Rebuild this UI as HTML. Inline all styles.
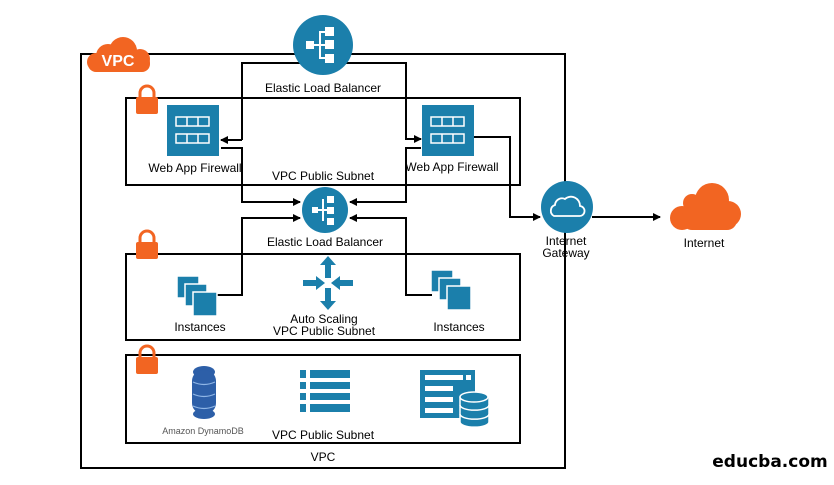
<!DOCTYPE html>
<html><head><meta charset="utf-8"><style>
html,body{margin:0;padding:0;background:#fff;}
svg{display:block;font-family:"Liberation Sans",sans-serif;}
</style></head><body>
<svg width="834" height="485" viewBox="0 0 834 485" xmlns="http://www.w3.org/2000/svg">
<defs>
<marker id="ah" markerWidth="8" markerHeight="8" refX="7" refY="4" orient="auto" markerUnits="userSpaceOnUse">
<path d="M0,0 L8,4 L0,8 z" fill="#000"/></marker>
<g id="lock"><path d="M-7,0 v-5 a7,7 0 0 1 14,0 v5" fill="none" stroke="#f26522" stroke-width="3"/><rect x="-11" y="-1" width="22" height="17" rx="2" fill="#f26522"/></g>
<g id="waf"><rect x="0" y="0" width="52" height="51" fill="#1b7fab"/>
<g fill="none" stroke="#fff" stroke-width="1.5"><rect x="9" y="12" width="33" height="9"/><line x1="20" y1="12" x2="20" y2="21"/><line x1="31" y1="12" x2="31" y2="21"/>
<rect x="9" y="29" width="33" height="9"/><line x1="20" y1="29" x2="20" y2="38"/><line x1="31" y1="29" x2="31" y2="38"/></g></g>
<g id="inst" fill="#1b7fab" stroke="#fff" stroke-width="1.5"><rect x="0" y="0" width="22" height="22"/><rect x="8" y="8" width="22" height="22"/><rect x="16" y="16" width="24" height="24"/></g>
</defs>

<rect x="81" y="54" width="484" height="414" fill="none" stroke="#000" stroke-width="2"/>
<g fill="#f26522"><circle cx="108" cy="56" r="12"/><circle cx="123" cy="51" r="14"/><circle cx="140" cy="59" r="10"/><rect x="88" y="55" width="62" height="17" rx="8"/><circle cx="96" cy="62" r="9"/></g>
<text x="118" y="66" font-size="16" fill="#fff" text-anchor="middle" font-weight="bold">VPC</text>

<rect x="126" y="98" width="394" height="87" fill="none" stroke="#000" stroke-width="2"/>
<rect x="126" y="254" width="394" height="86" fill="none" stroke="#000" stroke-width="2"/>
<rect x="126" y="355" width="394" height="88" fill="none" stroke="#000" stroke-width="2"/>
<use href="#lock" x="147" y="98"/>
<use href="#lock" x="147" y="243"/>
<use href="#lock" x="147" y="358"/>

<g fill="none" stroke="#000" stroke-width="2">
<path d="M242,140 V63 H406 V139 H421" marker-end="url(#ah)"/>
<path d="M242,140 H221" marker-end="url(#ah)"/>
<path d="M221,148 H242 V202 H300" marker-end="url(#ah)"/>
<path d="M421,148 H406 V202 H350" marker-end="url(#ah)"/>
<path d="M217,295 H242 V218 H300" marker-end="url(#ah)"/>
<path d="M432,295 H406 V218 H350" marker-end="url(#ah)"/>
<path d="M474,137 H510 V217 H540" marker-end="url(#ah)"/>
<path d="M592,217 H660" marker-end="url(#ah)"/>
</g>

<circle cx="323" cy="45" r="30" fill="#1b7fab"/>
<g fill="#fff"><rect x="306" y="41" width="8" height="8"/><rect x="325" y="27" width="9" height="9"/><rect x="325" y="40" width="9" height="9"/><rect x="325" y="54" width="9" height="9"/>
<rect x="319" y="31" width="2" height="28"/><rect x="314" y="44" width="11" height="2"/><rect x="319" y="31" width="6" height="2"/><rect x="319" y="57" width="6" height="2"/></g>
<text x="323" y="92" font-size="12" text-anchor="middle">Elastic Load Balancer</text>

<use href="#waf" x="167" y="105"/>
<use href="#waf" x="422" y="105"/>
<text x="195" y="172" font-size="12" text-anchor="middle">Web App Firewall</text>
<text x="452" y="171" font-size="12" text-anchor="middle">Web App Firewall</text>
<text x="323" y="180" font-size="12" text-anchor="middle">VPC Public Subnet</text>

<circle cx="325" cy="210" r="23" fill="#1b7fab"/>
<g fill="#fff"><rect x="312" y="207" width="6" height="6"/><rect x="327" y="196" width="7" height="7"/><rect x="327" y="207" width="7" height="7"/><rect x="327" y="218" width="7" height="7"/>
<rect x="322" y="199" width="2" height="22"/><rect x="318" y="209" width="9" height="2"/></g>
<text x="325" y="246" font-size="12" text-anchor="middle">Elastic Load Balancer</text>

<use href="#inst" x="177" y="276"/>
<use href="#inst" x="431" y="270"/>
<text x="200" y="331" font-size="12" text-anchor="middle">Instances</text>
<text x="459" y="331" font-size="12" text-anchor="middle">Instances</text>

<g fill="#1b7fab">
<path d="M328,256 l-8,9 h5 v13 h6 v-13 h5 z"/>
<path d="M328,310 l-8,-9 h5 v-13 h6 v13 h5 z"/>
<rect x="303" y="280" width="14" height="6"/><path d="M325,283 l-9,-7 v14 z"/>
<rect x="339" y="280" width="14" height="6"/><path d="M331,283 l9,-7 v14 z"/>
</g>
<text x="324" y="323" font-size="12" text-anchor="middle">Auto Scaling</text>
<text x="324" y="335" font-size="12" text-anchor="middle">VPC Public Subnet</text>

<g fill="#2d5fa8"><ellipse cx="204" cy="372" rx="11" ry="6"/><rect x="192" y="370" width="24" height="44" rx="11"/><ellipse cx="204" cy="414" rx="11" ry="5"/></g>
<g stroke="#8fb6e6" stroke-width="1.2" fill="none"><path d="M193,382 q11,5 22,0"/><path d="M193,394 q11,5 22,0"/><path d="M193,406 q11,5 22,0"/></g>
<text x="203" y="434" font-size="9" fill="#555" text-anchor="middle">Amazon DynamoDB</text>

<g fill="#1b7fab"><rect x="300" y="370" width="6" height="8"/><rect x="310" y="370" width="40" height="8"/>
<rect x="300" y="382" width="6" height="7"/><rect x="310" y="382" width="40" height="7"/>
<rect x="300" y="393" width="6" height="7"/><rect x="310" y="393" width="40" height="7"/>
<rect x="300" y="404" width="6" height="8"/><rect x="310" y="404" width="40" height="8"/></g>
<text x="323" y="439" font-size="12" text-anchor="middle">VPC Public Subnet</text>

<rect x="420" y="370" width="55" height="48" fill="#1b7fab"/>
<g fill="#fff"><rect x="425" y="375" width="38" height="5"/><rect x="466" y="375" width="5" height="5"/><rect x="425" y="386" width="28" height="5"/><rect x="425" y="397" width="28" height="5"/><rect x="425" y="408" width="28" height="5"/></g>
<g fill="#1b7fab" stroke="#fff" stroke-width="1.5"><path d="M460,397 v25 a14,5 0 0 0 29,0 v-25"/><ellipse cx="474" cy="397" rx="14" ry="5"/><path d="M460,405 a14,5 0 0 0 29,0 M460,414 a14,5 0 0 0 29,0" fill="none"/></g>
<text x="323" y="461" font-size="12" text-anchor="middle">VPC</text>

<circle cx="567" cy="207" r="26" fill="#1b7fab"/>
<path d="M554,216 a6,6 0 0 1 1,-11 a7,7 0 0 1 10,-6 a9,9 0 0 1 15,7 a5,5 0 0 1 -1,10 z" fill="none" stroke="#fff" stroke-width="1.8"/>
<text x="566" y="245" font-size="12" text-anchor="middle">Internet</text>
<text x="566" y="257" font-size="12" text-anchor="middle">Gateway</text>

<g fill="#f26522"><circle cx="692" cy="203" r="9"/><circle cx="712" cy="200" r="17"/><circle cx="728" cy="214" r="13"/><circle cx="682" cy="218" r="12"/><rect x="682" y="207" width="55" height="23" rx="10"/></g>
<text x="704" y="247" font-size="12" text-anchor="middle">Internet</text>

<text x="770" y="467" font-size="17" font-weight="bold" text-anchor="middle" font-family="DejaVu Sans, sans-serif">educba.com</text>
</svg>
</body></html>
